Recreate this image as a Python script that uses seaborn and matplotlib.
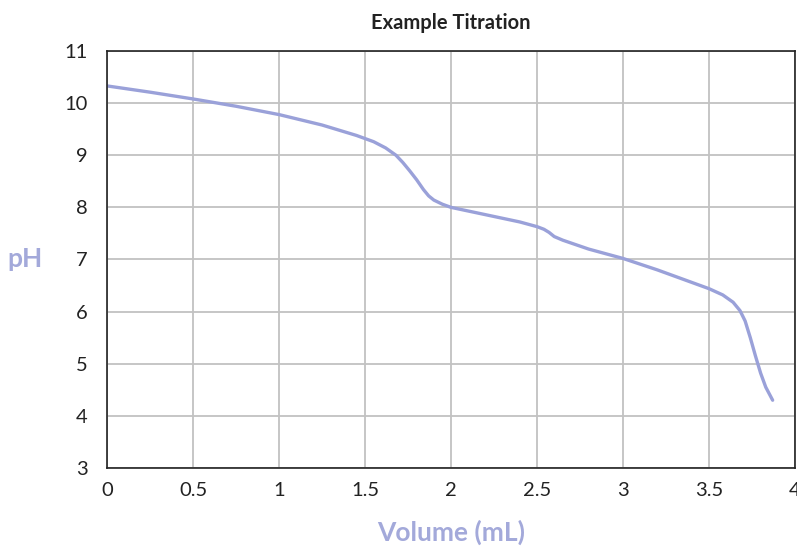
import matplotlib
matplotlib.use("Agg")
import matplotlib.pyplot as plt
import seaborn as sns
import pandas as pd

volume = [0.0, 0.25, 0.5, 0.75, 1.0, 1.25, 1.45, 1.55, 1.62, 1.68, 1.72, 1.76, 1.8, 1.84, 1.87, 1.9, 1.95,
          2.0, 2.2, 2.4, 2.5, 2.54, 2.57, 2.6, 2.65, 2.8, 3.0, 3.2, 3.4, 3.5, 3.58, 3.64, 3.68, 3.71, 3.74,
          3.77, 3.8, 3.83, 3.87]
ph = [10.33, 10.21, 10.08, 9.94, 9.78, 9.58, 9.38, 9.26, 9.14, 9.0, 8.86, 8.7, 8.53, 8.34, 8.22, 8.14, 8.06,
      8.0, 7.86, 7.72, 7.63, 7.58, 7.52, 7.44, 7.37, 7.2, 7.02, 6.8, 6.56, 6.44, 6.32, 6.18, 6.02, 5.82, 5.5,
      5.15, 4.82, 4.55, 4.3]

xticks = [0, 0.5, 1, 1.5, 2, 2.5, 3, 3.5, 4]
xticklabels = ["0", "0.5", "1", "1.5", "2", "2.5", "3", "3.5", "4"]
yticks = [3, 4, 5, 6, 7, 8, 9, 10, 11]

sns.set_theme(style="white")
plt.rcParams['font.family'] = ['Lato', 'DejaVu Sans']

fig = plt.figure(figsize=(7.97, 5.46), dpi=100)
ax = fig.add_axes([0.1343, 0.1429, 0.8632, 0.7637])

df = pd.DataFrame({"Volume": volume, "pH": ph})
sns.lineplot(data=df, x="Volume", y="pH", ax=ax, color="#9aa1d9", linewidth=2.4, estimator=None, sort=False)

ax.set_xlim(0, 4)
ax.set_ylim(3, 11)
ax.set_xticks(xticks)
ax.set_xticklabels(xticklabels)
ax.set_yticks(yticks)
ax.grid(True, color="#c2c2c2", linewidth=1.3)
ax.set_axisbelow(True)
for s in ax.spines.values():
    s.set_color("#222222")
    s.set_linewidth(1.2)
ax.tick_params(axis="both", labelsize=14.5, colors="#222222", length=0, pad=14)
ax.tick_params(axis="x", pad=10)

ax.set_title("Example Titration", fontsize=14.5, fontweight="bold", color="#222222", pad=16)
ax.set_xlabel("Volume (mL)", fontsize=19, fontweight="bold", color="#a3a9da", labelpad=15)
ax.set_ylabel("pH", fontsize=19, fontweight="bold", color="#a3a9da", rotation=0, labelpad=28, va="center")

fig.savefig("out.png", dpi=100)
